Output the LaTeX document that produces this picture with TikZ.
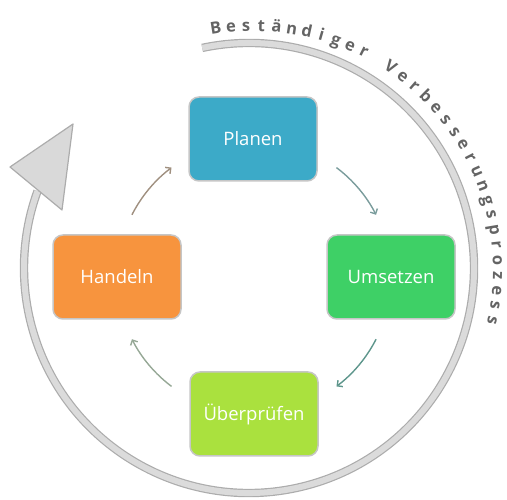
\documentclass[tikz,border=0pt]{standalone}
\usepackage{fontspec}
\setmainfont{Open Sans}
\usetikzlibrary{calc,arrows.meta}
\definecolor{planc}{RGB}{60,170,200}
\definecolor{umsc}{RGB}{62,208,102}
\definecolor{uebc}{RGB}{170,225,62}
\definecolor{handc}{RGB}{247,148,62}
\definecolor{arrA}{RGB}{122,156,156}
\definecolor{arrB}{RGB}{94,150,140}
\definecolor{arrC}{RGB}{150,168,150}
\definecolor{arrD}{RGB}{160,144,128}
\definecolor{lettc}{RGB}{100,100,100}
\begin{document}
\begin{tikzpicture}[x=1pt,y=1pt,
  box/.style={rectangle, rounded corners=10pt, minimum width=128pt, minimum height=84pt,
    draw=gray!45, line width=1.5pt, text=white, font=\fontsize{18.5}{21}\selectfont},
  flow/.style={line width=1.4pt, -{Straight Barb[length=4pt,width=8pt]}},
  band/.style={draw=gray!65, line width=1.2pt, double=gray!28, double distance=6pt},
  letter/.style={text=lettc, font=\bfseries\fontsize{16.5}{18}\selectfont, inner sep=0pt, anchor=base}]
\useasboundingbox (0,0) rectangle (507,499);

% outer improvement cycle
\coordinate (bc) at (249,231);
\coordinate (bs) at ($(bc)+(102:225pt)$);
\draw[band] (bs) arc[start angle=102, end angle=-200, radius=225pt];
\coordinate (tip) at (73,375);
\coordinate (tl) at (10,332);
\coordinate (tb) at (62,289);
\filldraw[fill=gray!30, draw=gray!65, line width=1.2pt, line join=round] (tip) -- (tl) -- (tb) -- cycle;

% curved label
\coordinate (tc) at (254,229);
\foreach \ch [count=\i from 0] in {B,e,s,t,ä,n,d,i,g,e,r}
  \node[letter, rotate={99-\i*3.58-90}] (wa\i) at ($(tc)+({99-\i*3.58}:239pt)$) {\ch};
\foreach \ch [count=\i from 12] in {V,e,r,b,e,s,s,e,r,u,n,g,s,p,r,o,z,e,s,s}
  \node[letter, rotate={99-\i*3.58-90}] (wb\i) at ($(tc)+({99-\i*3.58}:239pt)$) {\ch};

% boxes
\node[box, fill=planc] (plan) at (253,360) {Planen};
\node[box, fill=umsc] (ums) at (391,222) {Umsetzen};
\node[box, fill=uebc] (ueb) at (254,85) {Überprüfen};
\node[box, fill=handc] (hand) at (117,222) {Handeln};

% inner arrows
\coordinate (cc) at (254,222);
\coordinate (a1) at ($(cc)+(53:137pt)$);
\coordinate (a2) at ($(cc)+(-27:137pt)$);
\coordinate (a3) at ($(cc)+(-127:137pt)$);
\coordinate (a4) at ($(cc)+(153:137pt)$);
\draw[flow, arrA] (a1) arc[start angle=53, end angle=27, radius=137pt];
\draw[flow, arrB] (a2) arc[start angle=-27, end angle=-53, radius=137pt];
\draw[flow, arrC] (a3) arc[start angle=-127, end angle=-153, radius=137pt];
\draw[flow, arrD] (a4) arc[start angle=153, end angle=127, radius=137pt];
\end{tikzpicture}
\end{document}
